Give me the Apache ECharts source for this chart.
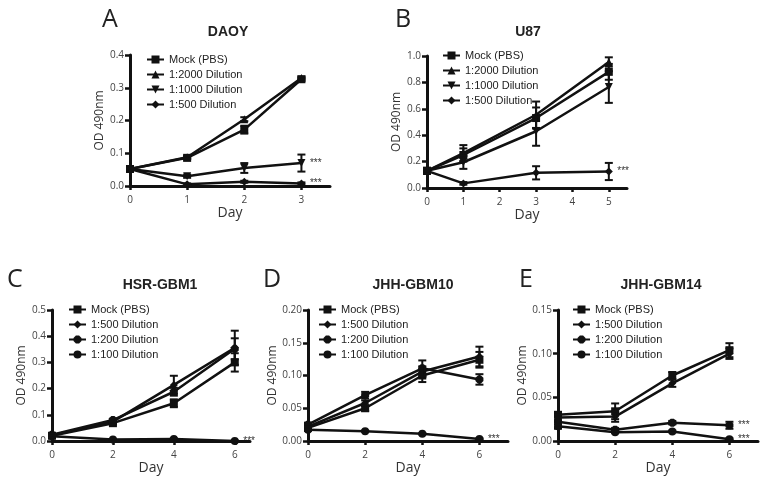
<!DOCTYPE html>
<html>
<head>
<meta charset="utf-8">
<script src="https://cdn.jsdelivr.net/npm/echarts@6/dist/echarts.min.js"></script>
<style>html,body{margin:0;background:#fff}#main{width:764px;height:482px}</style>
</head>
<body>
<div id="main"></div>
<script>
// ---- data ----
var namesAB = ['Mock (PBS)', '1:2000 Dilution', '1:1000 Dilution', '1:500 Dilution'];
var namesCDE = ['Mock (PBS)', '1:500 Dilution', '1:200 Dilution', '1:100 Dilution'];

var daysA = [0, 1, 2, 3];
var daoyMock = [0.052, 0.086, 0.172, 0.326];
var daoyMockErr = [0.003, 0.004, 0.012, 0.004];
var daoy2000 = [0.052, 0.088, 0.204, 0.330];
var daoy2000Err = [0.003, 0.004, 0.006, 0.004];
var daoy1000 = [0.052, 0.030, 0.055, 0.070];
var daoy1000Err = [0.004, 0.005, 0.015, 0.026];
var daoy500 = [0.052, 0.005, 0.013, 0.008];
var daoy500Err = [0.003, 0.003, 0.003, 0.003];

var daysB = [0, 1, 3, 5];
var u87Mock = [0.13, 0.25, 0.53, 0.88];
var u87MockErr = [0.02, 0.05, 0.08, 0.06];
var u87_2000 = [0.13, 0.265, 0.555, 0.955];
var u87_2000Err = [0.02, 0.06, 0.10, 0.035];
var u87_1000 = [0.13, 0.195, 0.43, 0.765];
var u87_1000Err = [0.02, 0.05, 0.11, 0.12];
var u87_500 = [0.13, 0.035, 0.115, 0.125];
var u87_500Err = [0.02, 0.01, 0.05, 0.065];

var daysCDE = [0, 2, 4, 6];
var gbm1Mock = [0.020, 0.068, 0.144, 0.300];
var gbm1MockErr = [0.004, 0.005, 0.015, 0.035];
var gbm1_500 = [0.022, 0.074, 0.214, 0.356];
var gbm1_500Err = [0.004, 0.005, 0.035, 0.065];
var gbm1_200 = [0.024, 0.080, 0.188, 0.352];
var gbm1_200Err = [0.004, 0.005, 0.015, 0.04];
var gbm1_100 = [0.018, 0.006, 0.008, 0.000];
var gbm1_100Err = [0.003, 0.002, 0.002, 0.002];

var gbm10Mock = [0.020, 0.050, 0.100, 0.124];
var gbm10MockErr = [0.003, 0.004, 0.010, 0.012];
var gbm10_500 = [0.022, 0.058, 0.106, 0.129];
var gbm10_500Err = [0.003, 0.004, 0.008, 0.015];
var gbm10_200 = [0.025, 0.070, 0.111, 0.094];
var gbm10_200Err = [0.003, 0.005, 0.012, 0.008];
var gbm10_100 = [0.017, 0.015, 0.011, 0.003];
var gbm10_100Err = [0.001, 0.001, 0.001, 0.001];

var gbm14Mock = [0.030, 0.034, 0.075, 0.104];
var gbm14MockErr = [0.003, 0.009, 0.004, 0.008];
var gbm14_500 = [0.027, 0.028, 0.066, 0.100];
var gbm14_500Err = [0.003, 0.006, 0.004, 0.006];
var gbm14_200 = [0.022, 0.013, 0.021, 0.018];
var gbm14_200Err = [0.008, 0.002, 0.002, 0.004];
var gbm14_100 = [0.017, 0.010, 0.011, 0.002];
var gbm14_100Err = [0.002, 0.001, 0.001, 0.001];

// significance marks: [panel, x, y]
var stars = [[0, 3, 0.07], [0, 3, 0.008], [1, 5, 0.125], [2, 6, 0.0], [3, 6, 0.003], [4, 6, 0.018], [4, 6, 0.002]];

// ---- layout ----
var octagon = 'path://M3,0L7,0L10,3L10,7L7,10L3,10L0,7L0,3Z';
var symAB = [['rect', 0], ['triangle', 0], ['triangle', 180], ['diamond', 0]];
var symCDE = [['rect', 0], ['diamond', 0], [octagon, 0], ['circle', 0]];

var panels = [
  { letter: 'A', title: 'DAOY', left: 130, top: 55, width: 200, height: 131, xmax: 3.5, xticks: [0, 1, 2, 3],
    ymax: 0.4, yint: 0.1, dec: 1, yNameGap: 22, xNameGap: 19, titleX: 223, titleY: 20, letterX: 97, letterY: 2,
    legX: 146, legY: 54, names: namesAB, sym: symAB, days: daysA,
    vals: [daoyMock, daoy2000, daoy1000, daoy500], errs: [daoyMockErr, daoy2000Err, daoy1000Err, daoy500Err] },
  { letter: 'B', title: 'U87', left: 427, top: 56, width: 200, height: 132, xmax: 5.5, xticks: [0, 1, 2, 3, 4, 5],
    ymax: 1.0, yint: 0.2, dec: 1, yNameGap: 22, xNameGap: 19, titleX: 523, titleY: 20, letterX: 390, letterY: 2,
    legX: 442, legY: 50, names: namesAB, sym: symAB, days: daysB,
    vals: [u87Mock, u87_2000, u87_1000, u87_500], errs: [u87MockErr, u87_2000Err, u87_1000Err, u87_500Err] },
  { letter: 'C', title: 'HSR-GBM1', left: 52, top: 310, width: 198, height: 131, xmax: 6.5, xticks: [0, 2, 4, 6],
    ymax: 0.5, yint: 0.1, dec: 1, yNameGap: 24, xNameGap: 17, titleX: 155, titleY: 273, letterX: 2, letterY: 262,
    legX: 68, legY: 304, names: namesCDE, sym: symCDE, days: daysCDE,
    vals: [gbm1Mock, gbm1_500, gbm1_200, gbm1_100], errs: [gbm1MockErr, gbm1_500Err, gbm1_200Err, gbm1_100Err] },
  { letter: 'D', title: 'JHH-GBM10', left: 308, top: 310, width: 200, height: 131, xmax: 7, xticks: [0, 2, 4, 6],
    ymax: 0.2, yint: 0.05, dec: 2, yNameGap: 28, xNameGap: 18, titleX: 408, titleY: 273, letterX: 258, letterY: 262,
    legX: 318, legY: 304, names: namesCDE, sym: symCDE, days: daysCDE,
    vals: [gbm10Mock, gbm10_500, gbm10_200, gbm10_100], errs: [gbm10MockErr, gbm10_500Err, gbm10_200Err, gbm10_100Err] },
  { letter: 'E', title: 'JHH-GBM14', left: 558, top: 310, width: 200, height: 131, xmax: 7, xticks: [0, 2, 4, 6],
    ymax: 0.15, yint: 0.05, dec: 2, yNameGap: 28, xNameGap: 18, titleX: 656, titleY: 273, letterX: 514, letterY: 262,
    legX: 572, legY: 304, names: namesCDE, sym: symCDE, days: daysCDE,
    vals: [gbm14Mock, gbm14_500, gbm14_200, gbm14_100], errs: [gbm14MockErr, gbm14_500Err, gbm14_200Err, gbm14_100Err] }
];

var ink = '#111';

function renderErr(params, api) {
  var x = api.value(0);
  var lo = api.coord([x, api.value(1)]);
  var hi = api.coord([x, api.value(2)]);
  var w = 4;
  var st = { stroke: ink, lineWidth: 2 };
  return { type: 'group', children: [
    { type: 'line', shape: { x1: lo[0], y1: lo[1], x2: hi[0], y2: hi[1] }, style: st },
    { type: 'line', shape: { x1: lo[0] - w, y1: lo[1], x2: lo[0] + w, y2: lo[1] }, style: st },
    { type: 'line', shape: { x1: hi[0] - w, y1: hi[1], x2: hi[0] + w, y2: hi[1] }, style: st }
  ] };
}

var titles = [], grids = [], xAxes = [], yAxes = [], legends = [], series = [];

panels.forEach(function (p, i) {
  titles.push({ text: p.title, left: p.titleX, top: p.titleY, textAlign: 'center',
    textStyle: { fontFamily: 'Liberation Sans', fontWeight: 'bold', fontSize: 14, color: '#222' } });
  titles.push({ text: p.letter, left: p.letterX, top: p.letterY,
    textStyle: { fontFamily: 'Open Sans', fontWeight: 'normal', fontSize: 25, color: '#222' } });
  grids.push({ left: p.left, top: p.top, width: p.width, height: p.height, containLabel: false });
  xAxes.push({
    type: 'value', gridIndex: i, min: 0, max: p.xmax,
    name: 'Day', nameLocation: 'middle', nameGap: p.xNameGap,
    nameTextStyle: { fontFamily: 'Open Sans', fontSize: 14, color: '#333' },
    axisLine: { lineStyle: { color: ink, width: 3 } },
    axisTick: { customValues: p.xticks, length: 4, lineStyle: { color: ink, width: 2.5 } },
    axisLabel: { customValues: p.xticks, fontFamily: 'Open Sans', fontSize: 10, color: '#444', margin: 9 },
    splitLine: { show: false }
  });
  yAxes.push({
    type: 'value', gridIndex: i, min: 0, max: p.ymax, interval: p.yint,
    name: 'OD 490nm', nameLocation: 'middle', nameGap: p.yNameGap,
    nameTextStyle: { fontFamily: 'Open Sans', fontSize: 12, color: '#333' },
    axisLine: { show: true, lineStyle: { color: ink, width: 3 } },
    axisTick: { show: true, length: 5, lineStyle: { color: ink, width: 2.5 } },
    axisLabel: { fontFamily: 'Open Sans', fontSize: 10, color: '#444', margin: 6,
      formatter: function (v) { return v.toFixed(p.dec); } },
    splitLine: { show: false }
  });
  legends.push({
    orient: 'vertical', left: p.legX, top: p.legY, padding: 0, itemGap: 4,
    itemWidth: 17, itemHeight: 10, selectedMode: false, data: p.names,
    textStyle: { fontFamily: 'Liberation Sans', fontSize: 11, color: '#222', lineHeight: 11 }
  });
  p.names.forEach(function (name, k) {
    var data = p.days.map(function (d, j) { return [d, p.vals[k][j]]; });
    var s = {
      name: name, type: 'line', xAxisIndex: i, yAxisIndex: i, data: data,
      symbol: p.sym[k][0], symbolRotate: p.sym[k][1], symbolSize: 8, showSymbol: true,
      lineStyle: { color: ink, width: 2.5 }, itemStyle: { color: ink }, z: 3, animation: false
    };
    var marks = stars.filter(function (st) {
      return st[0] === i && Math.abs(st[2] - p.vals[k][p.vals[k].length - 1]) < 1e-9;
    });
    if (marks.length) {
      s.markPoint = {
        symbol: 'circle', symbolSize: 1, itemStyle: { color: 'rgba(0,0,0,0)' }, animation: false,
        label: { show: true, position: 'right', distance: 8, formatter: '***', fontSize: 10, color: '#333' },
        data: marks.map(function (st) { return { coord: [st[1], st[2]] }; })
      };
    }
    series.push(s);
    series.push({
      name: 'err', type: 'custom', xAxisIndex: i, yAxisIndex: i, renderItem: renderErr,
      encode: { x: 0, y: [1, 2] }, silent: true, z: 4, animation: false, clip: false,
      data: p.days.map(function (d, j) { return [d, p.vals[k][j] - p.errs[k][j], p.vals[k][j] + p.errs[k][j]]; })
    });
  });
});

var chart = echarts.init(document.getElementById('main'));
chart.setOption({
  backgroundColor: '#fff',
  animation: false,
  title: titles,
  grid: grids,
  xAxis: xAxes,
  yAxis: yAxes,
  legend: legends,
  series: series
});
</script>
</body>
</html>
